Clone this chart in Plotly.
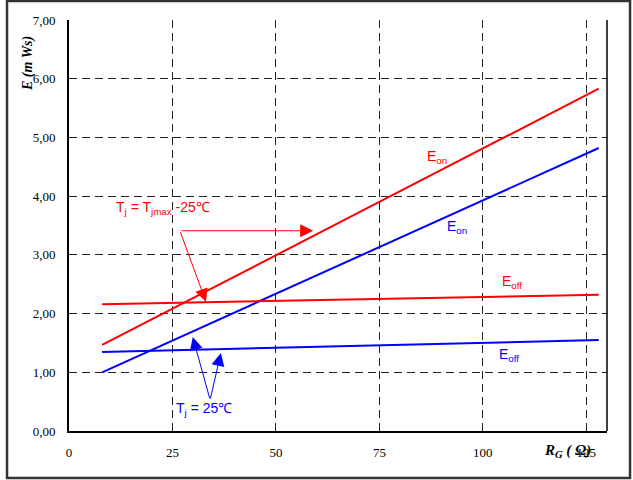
import plotly.graph_objects as go

# data
rg = [8, 128]
eon_hot = [1.465, 5.83]
eon_25 = [1.0, 4.82]
eoff_hot = [2.16, 2.32]
eoff_25 = [1.345, 1.55]
x_ticks = [0, 25, 50, 75, 100, 125]
y_ticks = [0, 1, 2, 3, 4, 5, 6, 7]
y_tick_labels = ["0,00", "1,00", "2,00", "3,00", "4,00", "5,00", "6,00", "7,00"]

RED = "#ff0000"
BLUE = "#0000ff"
SERIF = "Liberation Serif"

fig = go.Figure()
fig.add_trace(go.Scatter(x=rg, y=eon_hot, mode="lines", line=dict(color=RED, width=2)))
fig.add_trace(go.Scatter(x=rg, y=eon_25, mode="lines", line=dict(color=BLUE, width=2)))
fig.add_trace(go.Scatter(x=rg, y=eoff_hot, mode="lines", line=dict(color=RED, width=2)))
fig.add_trace(go.Scatter(x=rg, y=eoff_25, mode="lines", line=dict(color=BLUE, width=2)))

tick_font = dict(family=SERIF, size=13, color="#000")
lab_font = dict(family="Liberation Sans", size=14)

fig.update_layout(
    width=633, height=480,
    margin=dict(l=69, r=26, t=20, b=49),
    paper_bgcolor="white", plot_bgcolor="white",
    showlegend=False,
    xaxis=dict(range=[0, 130], tickvals=x_ticks, ticktext=[str(v) for v in x_ticks],
               showgrid=True, gridcolor="#222", griddash="8px,5px", gridwidth=1,
               showline=True, linecolor="#000", linewidth=2, zeroline=False,
               tickfont=tick_font, ticks="", ticklabelstandoff=8),
    yaxis=dict(range=[0, 7], tickvals=y_ticks, ticktext=y_tick_labels,
               showgrid=True, gridcolor="#222", griddash="8px,5px", gridwidth=1,
               showline=True, linecolor="#000", linewidth=2, zeroline=False,
               tickfont=tick_font, ticks="", ticklabelstandoff=9),
)

shapes = [
    # right frame line
    dict(type="line", xref="paper", yref="paper", x0=1, x1=1, y0=0, y1=1,
         line=dict(color="#000", width=1.5)),
    # outer border
    dict(type="rect", xref="paper", yref="paper", x0=-0.1152, x1=1.0428, y0=-0.1144, y1=1.0462,
         line=dict(color="#333", width=2.5)),
]
fig.update_layout(shapes=shapes)

ann = []
# axis titles
ann.append(dict(text="<b><i>E (m Ws)</i></b>", xref="paper", yref="paper", x=-0.0762, y=0.893,
                textangle=-90, showarrow=False, xanchor="center", yanchor="middle",
                font=dict(family=SERIF, size=14, color="#000")))
ann.append(dict(text="<b><i>R<sub>G</sub> ( Ω)</i></b>", xref="paper", yref="paper", x=0.9275, y=-0.0487,
                showarrow=False, xanchor="center", yanchor="middle",
                font=dict(family=SERIF, size=15, color="#000")))
# curve labels
ann.append(dict(text="E<sub>on</sub>", x=88.9, y=4.67, showarrow=False, font=dict(lab_font, color=RED)))
ann.append(dict(text="E<sub>on</sub>", x=93.7, y=3.47, showarrow=False, font=dict(lab_font, color=BLUE)))
ann.append(dict(text="E<sub>off</sub>", x=107, y=2.54, showarrow=False, font=dict(lab_font, color=RED)))
ann.append(dict(text="E<sub>off</sub>", x=106.3, y=1.29, showarrow=False, font=dict(lab_font, color=BLUE)))
# condition labels
ann.append(dict(text="T<sub>j</sub> = T<sub>jmax</sub> -25℃", x=22.7, y=3.80, showarrow=False,
                font=dict(lab_font, color=RED)))
ann.append(dict(text="T<sub>j</sub> = 25℃", x=32.6, y=0.38, showarrow=False,
                font=dict(lab_font, color=BLUE)))
# arrows
arrow_common = dict(showarrow=True, arrowhead=2, arrowsize=2.6, arrowwidth=1, text="",
                    axref="x", ayref="y", standoff=0)
ann.append(dict(x=59, y=3.41, ax=26.8, ay=3.41, arrowcolor=RED, **arrow_common))
ann.append(dict(x=33.1, y=2.20, ax=26.8, ay=3.41, arrowcolor=RED, **arrow_common))
ann.append(dict(x=29.9, y=1.60, ax=34.1, ay=0.53, arrowcolor=BLUE, **arrow_common))
ann.append(dict(x=36.7, y=1.33, ax=34.1, ay=0.53, arrowcolor=BLUE, **arrow_common))
fig.update_layout(annotations=ann)

fig.write_html("out.html", config={"displayModeBar": False},
               post_script="document.body.style.margin='0';document.body.style.overflow='hidden';")
